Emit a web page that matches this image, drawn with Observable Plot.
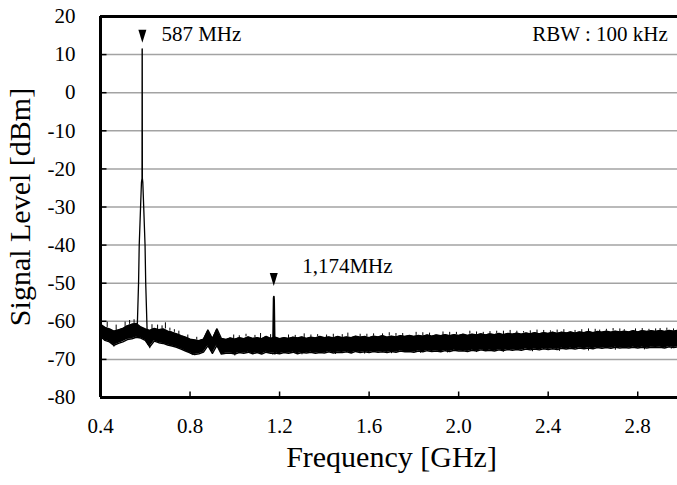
<!DOCTYPE html>
<html>
<head>
<meta charset="utf-8">
<script src="https://cdn.jsdelivr.net/npm/d3@7"></script>
<script src="https://cdn.jsdelivr.net/npm/@observablehq/plot@0.6"></script>
<style>
  html, body { margin: 0; padding: 0; background: #fff; overflow: hidden; width: 677px; height: 485px; }
  #chart { width: 682px; }
  #chart svg { display: block; max-width: none !important; width: 682px !important; height: 485px !important; }
</style>
</head>
<body>
<div id="chart"></div>
<script>
// ---- data ----
const xTicks = [0.4, 0.8, 1.2, 1.6, 2.0, 2.4, 2.8];
const yTicks = [-80, -70, -60, -50, -40, -30, -20, -10, 0, 10, 20];
const gridLevels = [-70, -60, -50, -40, -30, -20, -10, 0, 10];

// noise-floor band sampled every 0.02 GHz from 0.40 to 3.00 GHz
const bandStart = 0.40, bandStep = 0.02;
const bandHi = [
  -60.8,-61.6,-62.0,-62.6,-62.3,-61.9,-61.2,-60.8,-60.6,-61.5,
  -62.0,-62.4,-61.9,-62.2,-62.0,-62.6,-62.9,-63.3,-63.8,-64.2,
  -64.7,-64.9,-65.1,-64.7,-62.3,-64.6,-62.0,-64.5,-64.8,-64.4,
  -64.7,-64.3,-64.6,-64.1,-64.5,-64.3,-64.6,-64.0,-64.5,-64.2,
  -64.6,-64.3,-64.5,-64.2,-64.4,-64.1,-64.5,-64.2,-64.4,-64.0,
  -64.3,-64.1,-64.4,-64.0,-64.3,-64.1,-64.3,-63.9,-64.2,-64.0,
  -64.3,-63.9,-64.1,-63.8,-64.2,-63.9,-64.1,-63.8,-64.0,-63.7,
  -64.0,-63.7,-63.9,-63.6,-63.9,-63.6,-63.8,-63.5,-63.8,-63.5,
  -63.7,-63.4,-63.7,-63.4,-63.6,-63.3,-63.6,-63.3,-63.5,-63.2,
  -63.5,-63.2,-63.4,-63.1,-63.4,-63.1,-63.3,-63.0,-63.3,-63.0,
  -63.2,-62.9,-63.2,-62.9,-63.1,-62.8,-63.1,-62.8,-63.0,-62.7,
  -63.0,-62.7,-62.9,-62.6,-62.9,-62.6,-62.8,-62.6,-62.8,-62.5,
  -62.8,-62.5,-62.7,-62.5,-62.7,-62.4,-62.7,-62.4,-62.6,-62.4,
  -62.2
];
const bandLo = [
  -64.0,-65.0,-65.4,-66.3,-65.8,-65.4,-64.8,-64.6,-64.2,-64.4,
  -65.0,-66.7,-65.2,-65.6,-65.8,-66.2,-66.5,-66.8,-67.3,-67.8,
  -68.3,-68.7,-68.5,-68.1,-66.4,-68.4,-66.3,-68.6,-68.4,-68.3,
  -68.6,-68.2,-68.4,-68.1,-68.5,-68.2,-68.6,-68.1,-68.4,-68.3,
  -68.5,-68.2,-68.4,-68.1,-68.5,-68.2,-68.3,-68.1,-68.4,-68.2,
  -68.3,-68.0,-68.3,-68.1,-68.2,-68.0,-68.3,-67.9,-68.2,-68.0,
  -68.2,-67.9,-68.1,-68.0,-68.2,-67.9,-68.1,-67.8,-68.0,-67.9,
  -68.1,-67.8,-68.0,-67.7,-67.9,-67.8,-68.0,-67.7,-67.9,-67.6,
  -67.8,-67.7,-67.9,-67.6,-67.8,-67.5,-67.7,-67.6,-67.8,-67.5,
  -67.7,-67.4,-67.6,-67.4,-67.6,-67.3,-67.5,-67.3,-67.5,-67.2,
  -67.4,-67.2,-67.4,-67.1,-67.3,-67.1,-67.3,-67.0,-67.2,-67.0,
  -67.2,-66.9,-67.1,-66.9,-67.1,-66.8,-67.0,-66.9,-67.0,-66.8,
  -67.0,-66.8,-67.0,-66.8,-66.9,-66.8,-67.0,-66.7,-66.9,-66.7,
  -66.6
];
// short upward noise spikes: [GHz, dBm]
const spikesUp = [
  [0.43,-60.2],[0.47,-61.0],[0.51,-60.2],[0.53,-59.8],[0.55,-59.6],[0.63,-60.9],
  [0.655,-61.0],[0.675,-61.2],[0.69,-60.4],[0.71,-61.8],[0.73,-62.2],[0.75,-62.6],
  [0.79,-63.6],[0.83,-64.2],[0.995,-63.6],[1.05,-63.4],[1.115,-63.2],[1.16,-63.5],
  [1.24,-63.6],[1.31,-63.3],[1.37,-63.5],[1.44,-63.4],[1.505,-63.1],[1.56,-63.4],
  [1.62,-63.3],[1.69,-63.0],[1.75,-63.2],[1.81,-62.9],[1.87,-63.1],[1.93,-62.8],
  [1.99,-62.9],[2.05,-62.6],[2.11,-62.9],[2.17,-62.6],[2.23,-62.4],[2.29,-62.7],
  [2.35,-62.3],[2.41,-62.5],[2.47,-62.2],[2.52,-62.4],[2.58,-62.0],[2.63,-62.3],
  [2.69,-61.9],[2.74,-62.2],[2.79,-62.0],[2.85,-62.1],[2.90,-61.9],[2.96,-62.0],
  [1.02,-63.8],[1.09,-63.7],[1.27,-63.7],[1.34,-63.6],[1.41,-63.6],[1.48,-63.5],
  [1.59,-63.4],[1.66,-63.3],[1.72,-63.2],[1.84,-63.0],[1.96,-62.9],[2.08,-62.8],
  [2.14,-62.7],[2.20,-62.6],[2.26,-62.6],[2.32,-62.5],[2.38,-62.4],[2.44,-62.3],
  [2.55,-62.2],[2.61,-62.1],[2.66,-62.1],[2.72,-62.0],[2.82,-61.9],[2.88,-62.0],[2.93,-61.8],[2.99,-61.9]
];
const spikesDown = [
  [0.62,-67.2],[0.81,-69.0],[1.00,-69.1],[1.17,-68.9],[1.45,-68.7],[1.70,-68.5],
  [1.95,-68.3],[2.20,-68.1],[2.45,-67.9],[2.70,-67.6],[2.95,-67.3],
  [0.46,-66.8],[0.90,-68.7],[1.30,-68.8],[1.58,-68.6],[1.83,-68.4],[2.08,-68.2],[2.33,-68.0],[2.58,-67.8],[2.83,-67.5]
];
// carrier at 587 MHz
const carrierF = [0.564,0.567,0.570,0.573,0.579,0.583,0.5855,0.586,0.5865,0.587,0.589,0.593,0.599,0.602,0.605,0.608,0.612,0.616];
const carrierV = [-62,-56,-50,-40,-30,-23.5,-22.5,11.5,11.5,-22.5,-23.5,-30,-40,-50,-56,-62,-66,-63.5];
// 2nd harmonic at 1,174 MHz
const harmF = [1.171,1.1735,1.1745,1.1755,1.178,1.179,1.181];
const harmV = [-64.5,-54,-53.5,-54.5,-65,-68.5,-66];
// markers and labels
const markerF = [0.587, 1.174];
const markerV = [14.8, -49.0];
const startLabels = ["587 MHz", "1,174MHz"];
const startLabelF = [0.672, 1.301];
const startLabelV = [15.3, -45.6];
const endLabels = ["RBW : 100 kHz"];
const endLabelF = [2.934];
const endLabelV = [15.3];

// ---- build tables ----
const band = bandHi.map((h, i) => ({f: bandStart + bandStep * i, hi: h, lo: bandLo[i]}));
const carrier = carrierF.map((f, i) => ({f, v: carrierV[i]}));
const harm = harmF.map((f, i) => ({f, v: harmV[i]}));
const markers = markerF.map((f, i) => ({f, v: markerV[i]}));
const sLab = startLabels.map((t, i) => ({t, f: startLabelF[i], v: startLabelV[i]}));
const eLab = endLabels.map((t, i) => ({t, f: endLabelF[i], v: endLabelV[i]}));
const bandAt = f => band[Math.max(0, Math.min(band.length - 1, Math.round((f - bandStart) / bandStep)))];
const up = spikesUp.map(([f, v]) => ({f, y1: bandAt(f).hi, y2: v}));
const down = spikesDown.map(([f, v]) => ({f, y1: bandAt(f).lo, y2: v}));

// custom symbols
const triDown = {draw(ctx) { ctx.moveTo(-4, -6.5); ctx.lineTo(4, -6.5); ctx.lineTo(0, 6.5); ctx.closePath(); }};
const tickRight = {draw(ctx) { ctx.moveTo(0, 0); ctx.lineTo(6, 0); }};
const tickUp = {draw(ctx) { ctx.moveTo(0, 0); ctx.lineTo(0, -6); }};

const font = "'Liberation Serif', 'Times New Roman', serif";

const chart = Plot.plot({
  width: 682,
  height: 485,
  marginLeft: 100,
  marginRight: 0,
  marginTop: 16,
  marginBottom: 88,
  style: {fontFamily: font, fontSize: "21px", color: "black", background: "white", maxWidth: "none"},
  x: {domain: [0.4, 3.0], label: null},
  y: {domain: [-80, 20], label: null},
  marks: [
    Plot.ruleY(gridLevels, {stroke: "#a3a3a3", strokeWidth: 1.5}),
    Plot.areaY(band, {x: "f", y1: "lo", y2: "hi", fill: "black"}),
    Plot.line(band, {x: "f", y: "hi", stroke: "black", strokeWidth: 1.5}),
    Plot.line(band, {x: "f", y: "lo", stroke: "black", strokeWidth: 1.5}),
    Plot.ruleX(up, {x: "f", y1: "y1", y2: "y2", stroke: "black", strokeWidth: 1}),
    Plot.ruleX(down, {x: "f", y1: "y1", y2: "y2", stroke: "black", strokeWidth: 1}),
    Plot.line(carrier, {x: "f", y: "v", stroke: "black", strokeWidth: 1.3}),
    Plot.line(harm, {x: "f", y: "v", stroke: "black", strokeWidth: 1.8}),
    Plot.ruleY([20, -80], {stroke: "black", strokeWidth: 3}),
    Plot.ruleX([0.4], {stroke: "black", strokeWidth: 3}),
    Plot.dot(gridLevels, {y: d => d, frameAnchor: "left", symbol: tickRight, stroke: "black", strokeWidth: 1.5, fill: "none"}),
    Plot.dot(xTicks.slice(1), {x: d => d, frameAnchor: "bottom", symbol: tickUp, stroke: "black", strokeWidth: 1.5, fill: "none"}),
    Plot.dot(markers, {x: "f", y: "v", symbol: triDown, fill: "black", stroke: "none"}),
    Plot.text(sLab, {x: "f", y: "v", text: "t", textAnchor: "start", fontSize: 21, fill: "black"}),
    Plot.text(eLab, {x: "f", y: "v", text: "t", textAnchor: "end", fontSize: 21, fill: "black"}),
    Plot.axisY({ticks: yTicks, tickSize: 0, tickPadding: 25, tickFormat: d => String(d), fontSize: 21, label: null}),
    Plot.axisX({ticks: xTicks, tickSize: 0, tickPadding: 21, tickFormat: d3.format(".1f"), fontSize: 21, label: null}),
    Plot.text(["Frequency [GHz]"], {frameAnchor: "bottom", dy: 69, fontSize: 30, fill: "black"}),
    Plot.text(["Signal Level [dBm]"], {frameAnchor: "left", textAnchor: "middle", dx: -80, rotate: -90, fontSize: 30, fill: "black"})
  ]
});
document.getElementById("chart").appendChild(chart);
</script>
</body>
</html>
